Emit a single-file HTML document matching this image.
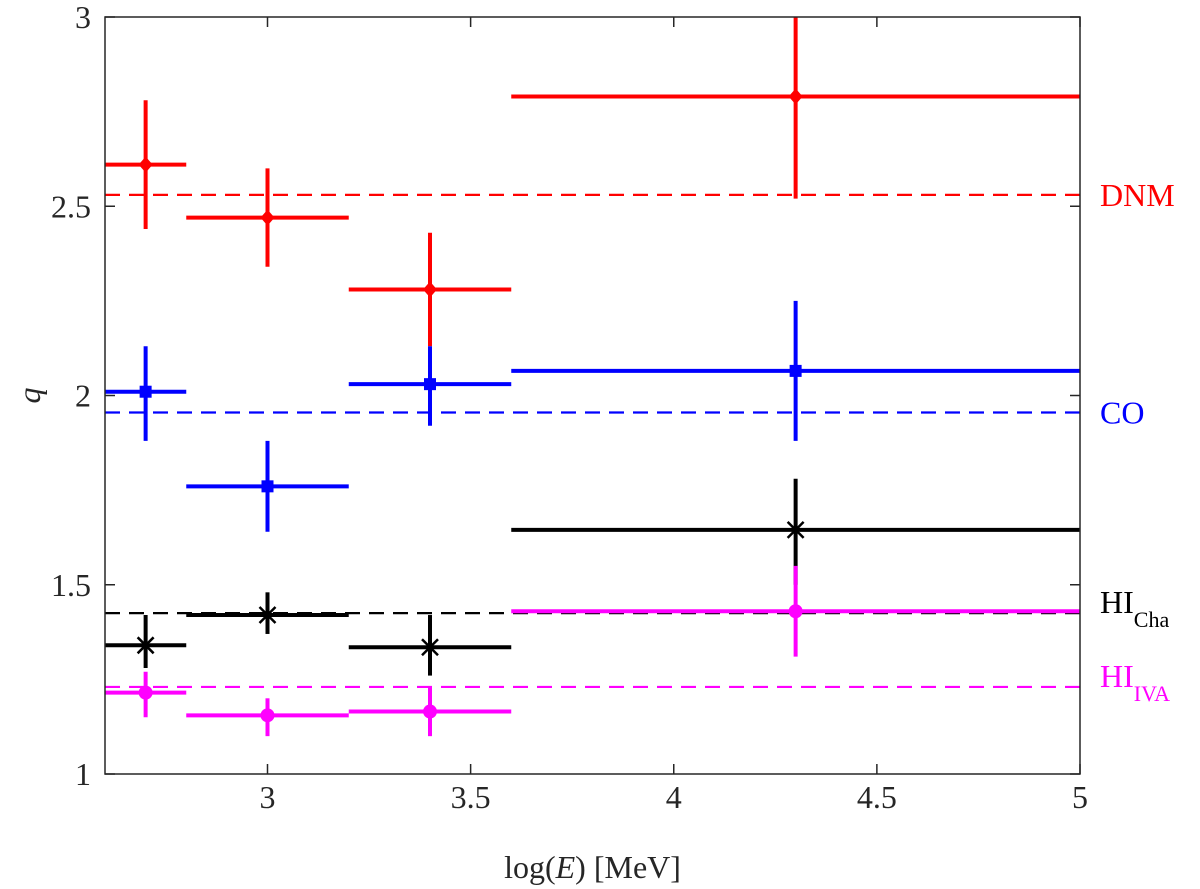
<!DOCTYPE html>
<html><head><meta charset="utf-8"><style>
html,body{margin:0;padding:0;background:#fff;}
svg{display:block;}
text{font-family:"Liberation Serif",serif;}
</style></head><body>
<svg id="chart" width="1200" height="889" viewBox="0 0 1200 889" xmlns="http://www.w3.org/2000/svg" font-family="Liberation Serif, serif"></svg>
<script>
const xTicks=[3,3.5,4,4.5,5];
const yTicks=[1,1.5,2,2.5,3];
const binCenters=[2.7,3.0,3.4,4.3];
const binLo=[2.6,2.8,3.2,3.6];
const binHi=[2.8,3.2,3.6,5.0];
const dnmVal=[2.61,2.47,2.28,2.79];
const dnmLo=[2.44,2.34,2.13,2.52];
const dnmHi=[2.78,2.60,2.43,3.05];
const coVal=[2.01,1.76,2.03,2.065];
const coLo=[1.88,1.64,1.92,1.88];
const coHi=[2.13,1.88,2.13,2.25];
const chaVal=[1.34,1.42,1.335,1.645];
const chaLo=[1.28,1.37,1.26,1.50];
const chaHi=[1.42,1.48,1.42,1.78];
const ivaVal=[1.215,1.155,1.165,1.43];
const ivaLo=[1.15,1.10,1.10,1.31];
const ivaHi=[1.27,1.20,1.23,1.55];
const refLevels=[2.53,1.955,1.425,1.23];

const L=105,R=1080,T=17,B=774,xMin=2.6,xMax=5,yMin=1,yMax=3;
const FF='Liberation Serif, serif';
const X=v=>L+(v-xMin)/(xMax-xMin)*(R-L);
const Y=v=>B-(v-yMin)/(yMax-yMin)*(B-T);
const svg=document.getElementById('chart');
const NS='http://www.w3.org/2000/svg';
function mk(tag,attrs,parent){const e=document.createElementNS(NS,tag);for(const k in attrs)e.setAttribute(k,attrs[k]);(parent||svg).appendChild(e);return e;}

const clip=mk('clipPath',{id:'pc'});mk('rect',{x:L,y:T,width:R-L,height:B-T},clip);

const series=[
 {name:'dnm',color:'#ff0000',v:dnmVal,lo:dnmLo,hi:dnmHi,m:'diamond',ref:refLevels[0],label:'DNM',sub:''},
 {name:'co',color:'#0000ff',v:coVal,lo:coLo,hi:coHi,m:'square',ref:refLevels[1],label:'CO',sub:''},
 {name:'hi-cha',color:'#000000',v:chaVal,lo:chaLo,hi:chaHi,m:'star',ref:refLevels[2],label:'HI',sub:'Cha'},
 {name:'hi-iva',color:'#ff00ff',v:ivaVal,lo:ivaLo,hi:ivaHi,m:'circle',ref:refLevels[3],label:'HI',sub:'IVA'}
];
series.forEach(s=>{
 const g=mk('g',{'clip-path':'url(#pc)'});
 
 
 const rl=mk('line',{x1:L,x2:R,y1:Y(s.ref),y2:Y(s.ref),stroke:s.color,'stroke-width':2.2,'stroke-dasharray':'15,9'},g);
 
 
 s.v.forEach((v,i)=>{
  const cx=X(binCenters[i]),cy=Y(v);
  const pg=mk('g',{},g);
  
  
  mk('line',{x1:X(binLo[i]),x2:X(binHi[i]),y1:cy,y2:cy,stroke:s.color,'stroke-width':4},pg);
  mk('line',{x1:cx,x2:cx,y1:Y(s.lo[i]),y2:Y(s.hi[i]),stroke:s.color,'stroke-width':4},pg);
  if(s.m==='diamond')mk('polygon',{points:`${cx},${cy-8} ${cx+7},${cy} ${cx},${cy+8} ${cx-7},${cy}`,fill:s.color},pg);
  else if(s.m==='square')mk('rect',{x:cx-6,y:cy-6,width:12,height:12,fill:s.color},pg);
  else if(s.m==='circle')mk('circle',{cx:cx,cy:cy,r:7,fill:s.color},pg);
  else{mk('path',{d:`M${cx-8},${cy-8}L${cx+8},${cy+8}M${cx-8},${cy+8}L${cx+8},${cy-8}M${cx},${cy-9}L${cx},${cy+9}`,stroke:s.color,'stroke-width':2.5},pg);}
 });
 const t=mk('text',{x:1100,y:Y(s.ref)+(s.sub?0:11),fill:s.color,'font-size':32,'font-family':FF});
 
 
 t.textContent=s.label;
 if(s.sub){const ts=mk('tspan',{'font-size':22,dy:14},t);ts.textContent=s.sub;}
});

const box=mk('rect',{x:L,y:T,width:R-L,height:B-T,fill:'none',stroke:'#262626','stroke-width':1.5});


xTicks.forEach(v=>{
 const x=X(v);
 mk('line',{x1:x,x2:x,y1:B,y2:B-10,stroke:'#262626','stroke-width':1.5});
 mk('line',{x1:x,x2:x,y1:T,y2:T+10,stroke:'#262626','stroke-width':1.5});
 const t=mk('text',{x:x,y:808,'text-anchor':'middle','font-size':32,fill:'#262626','font-family':FF});
 
 
 t.textContent=String(v);
});
yTicks.forEach(v=>{
 const y=Y(v);
 mk('line',{x1:L,x2:L+10,y1:y,y2:y,stroke:'#262626','stroke-width':1.5});
 mk('line',{x1:R,x2:R-10,y1:y,y2:y,stroke:'#262626','stroke-width':1.5});
 const t=mk('text',{x:L-14,y:y+11,'text-anchor':'end','font-size':32,fill:'#262626','font-family':FF});
 
 
 t.textContent=String(v);
});
const xt=mk('text',{x:(L+R)/2,y:878,'text-anchor':'middle','font-size':32,fill:'#262626','font-family':FF});


xt.innerHTML='log(<tspan font-style="italic">E</tspan>) [MeV]';
const yt=mk('text',{x:40,y:(T+B)/2,'text-anchor':'middle','font-size':32,'font-style':'italic',fill:'#262626','font-family':FF,transform:`rotate(-90 40 ${(T+B)/2})`});


yt.textContent='q';
</script>
</body></html>
